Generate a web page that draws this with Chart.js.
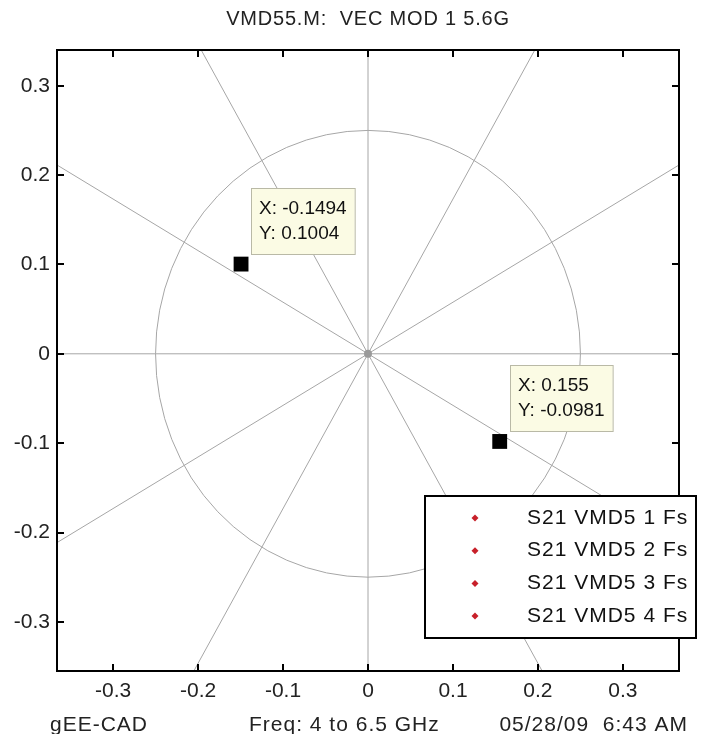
<!DOCTYPE html>
<html>
<head>
<meta charset="utf-8">
<script src="https://cdn.jsdelivr.net/npm/chart.js@4.4.0/dist/chart.umd.min.js"></script>
<style>
    body { margin: 0; background: #ffffff; }
    #wrap { width: 702px; height: 734px; }
</style>
</head>
<body>
<div id="wrap"><canvas id="polarChart" width="702" height="734"></canvas></div>
<script>
// chart text
const titleText = "VMD55.M:  VEC MOD 1 5.6G";
const footerLeft = "gEE-CAD";
const footerMid = "Freq: 4 to 6.5 GHz";
const footerRight = "05/28/09  6:43 AM";

// axes
const xTicks = [-0.3, -0.2, -0.1, 0, 0.1, 0.2, 0.3];
const yTicks = [-0.3, -0.2, -0.1, 0, 0.1, 0.2, 0.3];
const xTickLabels = ["-0.3", "-0.2", "-0.1", "0", "0.1", "0.2", "0.3"];
const yTickLabels = ["-0.3", "-0.2", "-0.1", "0", "0.1", "0.2", "0.3"];
const xLimits = [-0.366, 0.366];
const yLimits = [-0.355, 0.34];

// polar grid
const gridRadius = 0.25;
const spokeAngles = [0, 30, 60, 90, 120, 150]; // degrees, each line goes through the centre

// series
const seriesNames = ["S21 VMD5 1 Fs", "S21 VMD5 2 Fs", "S21 VMD5 3 Fs", "S21 VMD5 4 Fs"];
const seriesX = [[-0.1494], [0.155], [-0.1494], [0.155]];
const seriesY = [[0.1004], [-0.0981], [0.1004], [-0.0981]];

// data tips
const tipX = [-0.1494, 0.155];
const tipY = [0.1004, -0.0981];
const tipXLabels = ["-0.1494", "0.155"];
const tipYLabels = ["0.1004", "-0.0981"];

const FONT = "'Liberation Sans', Arial, sans-serif";
const seriesColor = "#c8202a";

const datasets = [{
    label: "datatips",
    data: tipX.map((x, i) => ({ x: x, y: tipY[i] })),
    pointStyle: "rect",
    pointRadius: 10.5,
    backgroundColor: "#000000",
    borderColor: "#000000",
    borderWidth: 0,
    order: 0,
}];
seriesNames.forEach((name, i) => {
    datasets.push({
        label: name,
        data: seriesX[i].map((x, j) => ({ x: x, y: seriesY[i][j] })),
        pointStyle: "circle",
        pointRadius: 2.5,
        backgroundColor: seriesColor,
        borderColor: seriesColor,
        borderWidth: 0,
        order: 1,
    });
});

const matlabFrame = {
    id: "matlabFrame",
    beforeDatasetsDraw(chart) {
        const { ctx, chartArea: a } = chart;
        const xs = chart.scales.x, ys = chart.scales.y;
        const cx = xs.getPixelForValue(0), cy = ys.getPixelForValue(0);
        ctx.save();
        ctx.beginPath();
        ctx.rect(a.left, a.top, a.right - a.left, a.bottom - a.top);
        ctx.clip();
        ctx.strokeStyle = "#a6a6a6";
        ctx.lineWidth = 1;
        // circle
        const rx = xs.getPixelForValue(gridRadius) - cx;
        const ry = cy - ys.getPixelForValue(gridRadius);
        ctx.beginPath();
        ctx.ellipse(cx, cy, rx, ry, 0, 0, Math.PI * 2);
        ctx.stroke();
        // spokes
        spokeAngles.forEach(deg => {
            const t = deg * Math.PI / 180;
            const r = 1;
            ctx.beginPath();
            ctx.moveTo(xs.getPixelForValue(-r * Math.cos(t)), ys.getPixelForValue(-r * Math.sin(t)));
            ctx.lineTo(xs.getPixelForValue(r * Math.cos(t)), ys.getPixelForValue(r * Math.sin(t)));
            ctx.stroke();
        });
        ctx.fillStyle = "#9a9a9a";
        ctx.beginPath();
        ctx.arc(cx, cy, 4, 0, Math.PI * 2);
        ctx.fill();
        ctx.restore();
    },
    afterDatasetsDraw(chart) {
        const { ctx, chartArea: a } = chart;
        const xs = chart.scales.x, ys = chart.scales.y;
        ctx.save();

        // axes box
        ctx.strokeStyle = "#000000";
        ctx.lineWidth = 2;
        ctx.strokeRect(a.left, a.top, a.right - a.left, a.bottom - a.top);

        // inward tick marks
        ctx.lineWidth = 2;
        const tl = 7;
        xTicks.forEach(v => {
            const px = Math.round(xs.getPixelForValue(v));
            ctx.beginPath();
            ctx.moveTo(px, a.bottom); ctx.lineTo(px, a.bottom - tl);
            ctx.moveTo(px, a.top); ctx.lineTo(px, a.top + tl);
            ctx.stroke();
        });
        yTicks.forEach(v => {
            const py = Math.round(ys.getPixelForValue(v));
            ctx.beginPath();
            ctx.moveTo(a.left, py); ctx.lineTo(a.left + tl, py);
            ctx.moveTo(a.right, py); ctx.lineTo(a.right - tl, py);
            ctx.stroke();
        });

        // data tip boxes
        ctx.font = "19px " + FONT;
        ctx.textBaseline = "middle";
        ctx.textAlign = "left";
        tipX.forEach((x, i) => {
            const px = xs.getPixelForValue(x), py = ys.getPixelForValue(tipY[i]);
            const l1 = "X: " + tipXLabels[i], l2 = "Y: " + tipYLabels[i];
            const w = Math.max(ctx.measureText(l1).width, ctx.measureText(l2).width) + 16;
            const h = 66;
            const bx = Math.round(px + 10), by = Math.round(py - 10 - h);
            ctx.fillStyle = "#fbfbe4";
            ctx.fillRect(bx, by, w, h);
            ctx.strokeStyle = "#b9b9a6";
            ctx.lineWidth = 1;
            ctx.strokeRect(bx + 0.5, by + 0.5, w, h);
            ctx.fillStyle = "#111111";
            ctx.fillText(l1, bx + 8, by + 21);
            ctx.fillText(l2, bx + 8, by + 46);
        });

        // legend
        const lg = { left: 425, top: 496, right: 696, bottom: 638 };
        ctx.fillStyle = "#ffffff";
        ctx.fillRect(lg.left, lg.top, lg.right - lg.left, lg.bottom - lg.top);
        ctx.strokeStyle = "#000000";
        ctx.lineWidth = 2;
        ctx.strokeRect(lg.left, lg.top, lg.right - lg.left, lg.bottom - lg.top);
        ctx.font = "21px " + FONT;
        ctx.letterSpacing = "1px";
        chart.data.datasets.forEach((ds, i) => {
            if (i === 0) return;
            const ry = 518 + (i - 1) * 32.7;
            ctx.fillStyle = ds.backgroundColor;
            ctx.beginPath();
            ctx.moveTo(475, ry - 3.5); ctx.lineTo(478.5, ry); ctx.lineTo(475, ry + 3.5); ctx.lineTo(471.5, ry);
            ctx.closePath();
            ctx.fill();
            ctx.fillStyle = "#111111";
            ctx.fillText(ds.label, 527, ry);
        });

        // title, centred over the axes
        ctx.font = "20px " + FONT;
        ctx.letterSpacing = "0.8px";
        ctx.fillStyle = "#222222";
        ctx.textAlign = "center";
        ctx.textBaseline = "middle";
        ctx.fillText(titleText, (a.left + a.right) / 2, 19);

        // footer texts
        ctx.font = "21px " + FONT;
        ctx.letterSpacing = "1px";
        ctx.textBaseline = "alphabetic";
        ctx.textAlign = "left";
        ctx.fillText(footerLeft, 50, 731);
        ctx.fillText(footerMid, 249, 731);
        ctx.textAlign = "right";
        ctx.fillText(footerRight, 688, 731);
        ctx.letterSpacing = "0px";
        ctx.restore();
    }
};

new Chart(document.getElementById("polarChart"), {
    type: "scatter",
    data: { datasets: datasets },
    options: {
        responsive: false,
        animation: false,
        events: [],
        layout: { padding: { left: 0, right: 23, top: 50, bottom: 0 } },
        plugins: {
            legend: { display: false },
            tooltip: { enabled: false },
            title: { display: false },
        },
        scales: {
            x: {
                type: "linear",
                min: xLimits[0],
                max: xLimits[1],
                afterBuildTicks: s => { s.ticks = xTicks.map(v => ({ value: v })); },
                afterFit: s => { s.height = 63; },
                grid: { display: false, drawTicks: false },
                border: { display: false },
                ticks: {
                    color: "#222222",
                    padding: 8,
                    font: { family: FONT, size: 21 },
                    callback: (v, i) => xTickLabels[i],
                },
            },
            y: {
                type: "linear",
                min: yLimits[0],
                max: yLimits[1],
                afterBuildTicks: s => { s.ticks = yTicks.map(v => ({ value: v })); },
                afterFit: s => { s.width = 57; },
                grid: { display: false, drawTicks: false },
                border: { display: false },
                ticks: {
                    color: "#222222",
                    padding: 7,
                    font: { family: FONT, size: 21 },
                    callback: (v, i) => yTickLabels[i],
                },
            },
        },
    },
    plugins: [matlabFrame],
});
</script>
</body>
</html>
